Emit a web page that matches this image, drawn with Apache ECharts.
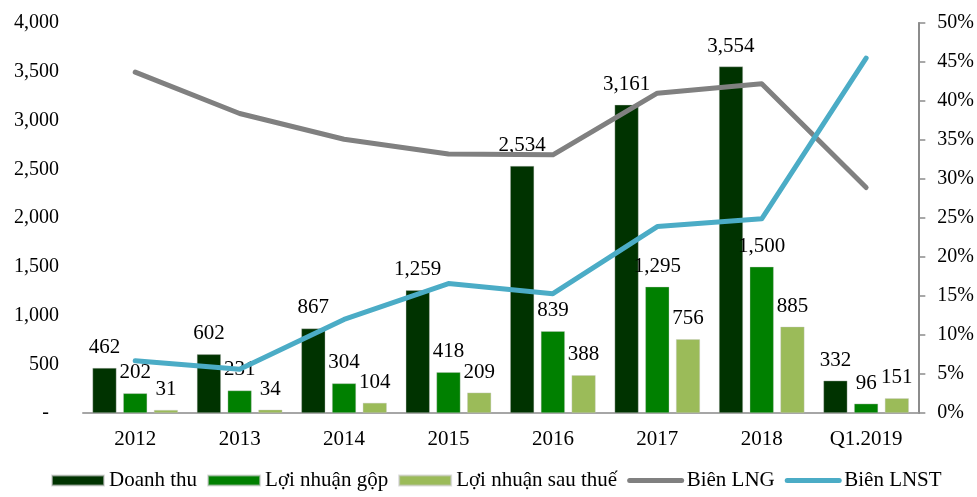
<!DOCTYPE html>
<html><head><meta charset="utf-8">
<script src="https://cdn.jsdelivr.net/npm/echarts@6/dist/echarts.min.js"></script>
<style>html,body{margin:0;padding:0;background:#fff}#c{width:977px;height:497px}</style>
</head><body><div id="c"></div>
<script>
const categories = ['2012','2013','2014','2015','2016','2017','2018','Q1.2019'];
const doanhThu = [462, 602, 867, 1259, 2534, 3161, 3554, 332];
const loiNhuanGop = [202, 231, 304, 418, 839, 1295, 1500, 96];
const loiNhuanSauThue = [31, 34, 104, 209, 388, 756, 885, 151];
const bienLNG = [43.7, 38.4, 35.1, 33.2, 33.1, 41.0, 42.2, 28.9];
const bienLNST = [6.7, 5.6, 12.0, 16.6, 15.3, 23.9, 24.9, 45.5];

const FONT = '"Liberation Serif","Times New Roman",serif';
const chart = echarts.init(document.getElementById('c'));
const fmt = v => v.toLocaleString('en-US');
const barLabel = {show:true, position:'top', distance:10, color:'#000', fontFamily:FONT, fontSize:21, formatter:p=>fmt(p.value)};
const barBorder = {borderColor:'rgba(200,200,200,0.6)', borderWidth:0.6};
chart.setOption({
  animation:false,
  textStyle:{fontFamily:FONT},
  grid:{left:83, right:57, top:23, bottom:84, containLabel:false},
  legend:{
    left:46, bottom:1, itemWidth:52, itemHeight:10, itemGap:10,
    textStyle:{fontFamily:FONT, fontSize:21, color:'#000'},
    data:[
      {name:'Doanh thu', icon:'rect'},
      {name:'Lợi nhuận gộp', icon:'rect'},
      {name:'Lợi nhuận sau thuế', icon:'rect'},
      {name:'Biên LNG', itemStyle:{opacity:0}, lineStyle:{width:5, cap:'round'}},
      {name:'Biên LNST', itemStyle:{opacity:0}, lineStyle:{width:5, cap:'round'}}
    ]
  },
  xAxis:{
    type:'category', data:categories,
    axisLine:{lineStyle:{color:'#a6a6a6', width:2}},
    axisTick:{show:false},
    axisLabel:{color:'#000', fontFamily:FONT, fontSize:21, margin:16}
  },
  yAxis:[
    {type:'value', min:0, max:4000, interval:500,
     axisLine:{show:false}, axisTick:{show:false}, splitLine:{show:false},
     axisLabel:{color:'#000', fontFamily:FONT, fontSize:20, margin:24,
       formatter:v=> v===0 ? '-  ' : fmt(v)}},
    {type:'value', min:0, max:50, interval:5, position:'right',
     axisLine:{show:true, lineStyle:{color:'#8c8c8c', width:2}},
     axisTick:{show:true, inside:false, length:7, lineStyle:{color:'#8c8c8c', width:1.5}},
     splitLine:{show:false},
     axisLabel:{color:'#000', fontFamily:FONT, fontSize:20, margin:19, formatter:v=>v+'%'}}
  ],
  series:[
    {name:'Doanh thu', type:'bar', data:doanhThu, barWidth:24, barGap:'28%', itemStyle:Object.assign({color:'#003300'}, barBorder), label:barLabel},
    {name:'Lợi nhuận gộp', type:'bar', data:loiNhuanGop, barWidth:24, barGap:'28%', itemStyle:Object.assign({color:'#008000'}, barBorder), label:barLabel},
    {name:'Lợi nhuận sau thuế', type:'bar', data:loiNhuanSauThue, barWidth:24, barGap:'28%', itemStyle:Object.assign({color:'#9bbb59'}, barBorder), label:barLabel},
    {name:'Biên LNG', type:'line', yAxisIndex:1, data:bienLNG, showSymbol:false, symbol:'none',
     lineStyle:{color:'#808080', width:5, cap:'round', join:'round'}, itemStyle:{color:'#808080'}},
    {name:'Biên LNST', type:'line', yAxisIndex:1, data:bienLNST, showSymbol:false, symbol:'none',
     lineStyle:{color:'#4bacc6', width:5, cap:'round', join:'round'}, itemStyle:{color:'#4bacc6'}}
  ]
});
</script></body></html>
